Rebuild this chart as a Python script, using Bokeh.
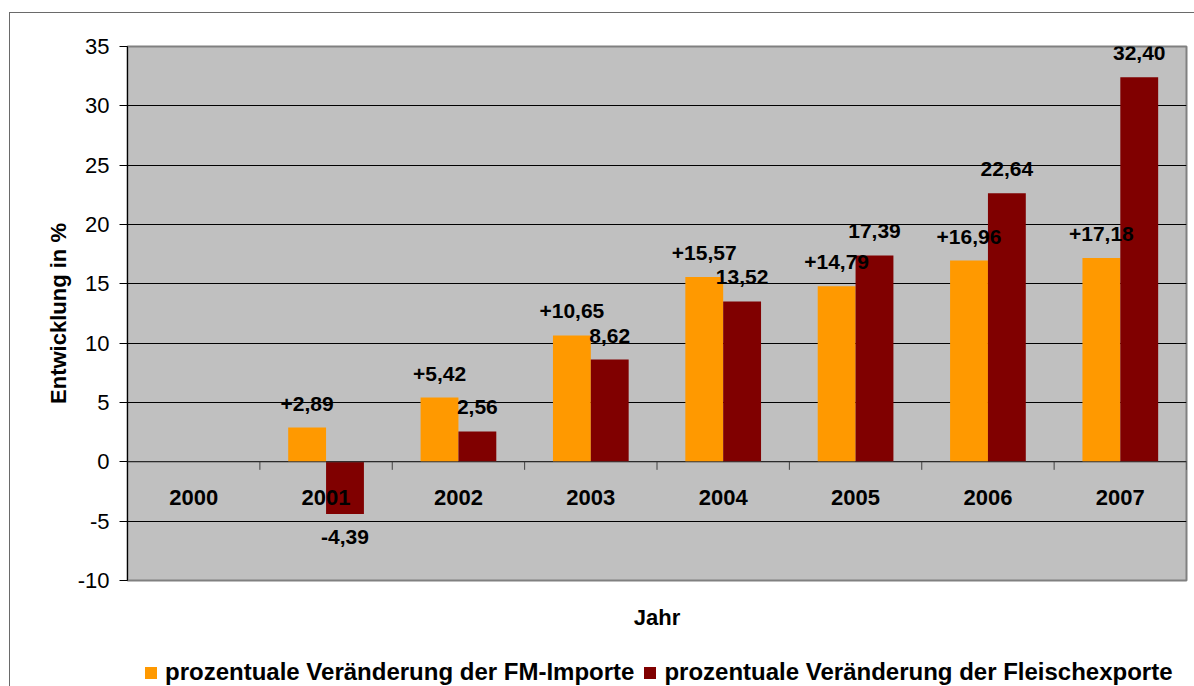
import math
from bokeh.plotting import figure
from bokeh.layouts import column
from bokeh.models import (ColumnDataSource, FactorRange, Range1d, LabelSet, Span,
                          Legend, LegendItem, FixedTicker)
from bokeh.core.properties import value
from bokeh.transform import dodge
from bokeh.embed import file_html
from bokeh.resources import INLINE

# ---- data ----
years = ["2000", "2001", "2002", "2003", "2004", "2005", "2006", "2007"]
fm_importe = [None, 2.89, 5.42, 10.65, 15.57, 14.79, 16.96, 17.18]
fleischexporte = [None, -4.39, 2.56, 8.62, 13.52, 17.39, 22.64, 32.40]
series_names = ["prozentuale Veränderung der FM-Importe",
                "prozentuale Veränderung der Fleischexporte"]
y_ticks = [-10, -5, 0, 5, 10, 15, 20, 25, 30, 35]
y_tick_labels = ["-10", "-5", "0", "5", "10", "15", "20", "25", "30", "35"]
y_title = "Entwicklung in %"
x_title = "Jahr"

FONT = "Liberation Sans"
ORANGE = "#FF9900"
DARKRED = "#800000"

src = ColumnDataSource(dict(
    year=years,
    fm=[float("nan") if v is None else v for v in fm_importe],
    fl=[float("nan") if v is None else v for v in fleischexporte],
))

def de(v, plus):
    s = f"{v:+.2f}" if plus else f"{v:.2f}"
    return s.replace(".", ",")

fm_lab = ColumnDataSource(dict(
    year=[y for y, v in zip(years, fm_importe) if v is not None],
    v=[v for v in fm_importe if v is not None],
    t=[de(v, True) for v in fm_importe if v is not None],
    off=[24 if v >= 0 else -23 for v in fm_importe if v is not None],
))
fl_lab = ColumnDataSource(dict(
    year=[y for y, v in zip(years, fleischexporte) if v is not None],
    v=[v for v in fleischexporte if v is not None],
    t=[de(v, False) for v in fleischexporte if v is not None],
    off=[24 if v >= 0 else -23 for v in fleischexporte if v is not None],
))
cat_src = ColumnDataSource(dict(year=years))

p = figure(x_range=FactorRange(*years), y_range=Range1d(y_ticks[0], y_ticks[-1]),
           width=1184, height=623, output_backend="svg", toolbar_location=None,
           min_border_left=117, min_border_top=33, min_border_right=8,
           min_border_bottom=56,
           background_fill_color="#C0C0C0",
           outline_line_color="#808080", outline_line_width=2)

# grid
p.xgrid.visible = False
p.ygrid.ticker = FixedTicker(ticks=y_ticks)
p.ygrid.grid_line_color = "#000000"
p.ygrid.grid_line_width = 1

# bars
r1 = p.vbar(x=dodge("year", -0.143, range=p.x_range), top="fm", width=0.286,
            source=src, fill_color=ORANGE, line_color=None)
r2 = p.vbar(x=dodge("year", 0.143, range=p.x_range), top="fl", width=0.286,
            source=src, fill_color=DARKRED, line_color=None)

# category axis at zero
p.add_layout(Span(location=0, dimension="width", line_color="#404040", line_width=1))
p.ray(x=dodge("year", 0.5, range=p.x_range), y=0, length=8, length_units="screen",
      angle=-math.pi / 2, line_color="#404040", line_width=1, source=cat_src)
p.add_layout(LabelSet(x="year", y=0, y_offset=-36, text="year", source=cat_src,
                      text_align="center", text_baseline="middle",
                      text_font=value(FONT), text_font_size=value("22px"),
                      text_font_style="bold", text_color="#000000"))

# data labels
for s, dx in ((fm_lab, -0.143), (fl_lab, 0.143)):
    p.add_layout(LabelSet(x=dodge("year", dx, range=p.x_range), y="v", text="t",
                          y_offset="off", source=s,
                          text_align="center", text_baseline="middle",
                          text_font=value(FONT), text_font_size=value("21px"),
                          text_font_style="bold", text_color="#000000"))

# y axis
yax = p.yaxis[0]
yax.ticker = FixedTicker(ticks=y_ticks)
yax.major_label_overrides = {t: l for t, l in zip(y_ticks, y_tick_labels)}
yax.minor_tick_line_color = None
yax.major_tick_out = 8
yax.major_tick_in = 0
yax.major_tick_line_color = "#000000"
yax.axis_line_color = "#000000"
yax.major_label_standoff = 10
yax.major_label_text_font = FONT
yax.major_label_text_font_size = "22px"
yax.major_label_text_color = "#000000"
yax.axis_label = y_title
yax.axis_label_text_font = FONT
yax.axis_label_text_font_size = "22px"
yax.axis_label_text_font_style = "bold"
yax.axis_label_text_color = "#000000"
yax.axis_label_standoff = 4

# x axis (title only)
xax = p.xaxis[0]
xax.major_label_text_font_size = "1px"
xax.major_label_text_alpha = 0
xax.major_label_standoff = 0
xax.major_tick_line_color = None
xax.minor_tick_line_color = None
xax.axis_line_color = None
xax.axis_label = x_title
xax.axis_label_text_font = FONT
xax.axis_label_text_font_size = "22px"
xax.axis_label_text_font_style = "bold"
xax.axis_label_text_color = "#000000"
xax.axis_label_standoff = 18

# legend strip below the chart (its swatch renderers sit outside the visible range)
p2 = figure(width=1184, height=50, output_backend="svg", toolbar_location=None,
            x_range=Range1d(0, 1), y_range=Range1d(0, 1),
            x_axis_type=None, y_axis_type=None,
            min_border=0, outline_line_color=None)
l1 = p2.vbar(x=[-5], top=[-5], width=0.1, fill_color=ORANGE, line_color=None)
l2 = p2.vbar(x=[-5], top=[-5], width=0.1, fill_color=DARKRED, line_color=None)
legend = Legend(items=[LegendItem(label=series_names[0], renderers=[l1]),
                       LegendItem(label=series_names[1], renderers=[l2])],
                orientation="horizontal", location=(16, 0),
                label_text_font=FONT, label_text_font_size="24px",
                label_text_font_style="bold", label_text_color="#000000",
                glyph_width=15, glyph_height=15, label_standoff=7, spacing=8,
                padding=0, margin=0, border_line_color=None,
                background_fill_alpha=0)
p2.add_layout(legend)

layout = column(p, p2, spacing=0,
                styles={"border-top": "1px solid #6a6a6a",
                        "border-left": "1px solid #6a6a6a",
                        "margin-top": "12px", "margin-left": "9px"})
open("out.html", "w").write(file_html(layout, INLINE))
